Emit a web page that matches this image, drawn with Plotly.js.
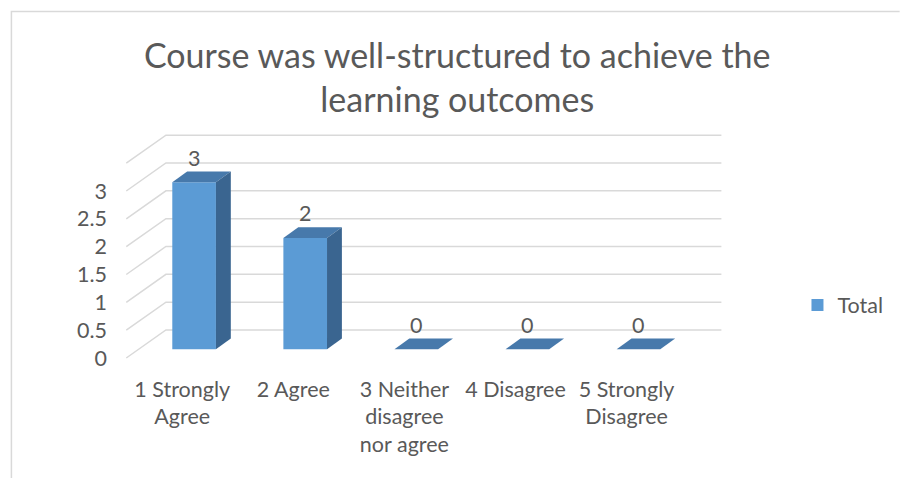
<!DOCTYPE html>
<html>
<head>
<meta charset="utf-8">
<script src="https://cdn.plot.ly/plotly-3.0.1.min.js"></script>
<style>html,body{margin:0;padding:0;background:#fff;}#chart{width:901px;height:478px;}</style>
</head>
<body>
<div id="chart"></div>
<script>
// ---- data ----
const categories = ['1 Strongly Agree', '2 Agree', '3 Neither disagree nor agree', '4 Disagree', '5 Strongly Disagree'];
const tickLabels = ['1 Strongly<br>Agree', '2 Agree', '3 Neither<br>disagree<br>nor agree', '4 Disagree', '5 Strongly<br>Disagree'];
const totals = [3, 2, 0, 0, 0];
const seriesName = 'Total';
const yTicks = [0, 0.5, 1, 1.5, 2, 2.5, 3];
const gridLevels = [0, 0.5, 1, 1.5, 2, 2.5, 3, 3.5];
const chartTitle = 'Course was well-structured to achieve the<br>learning outcomes';

// ---- geometry / style ----
const W = 901, H = 478;
const M = {l: 122, r: 163, t: 132, b: 115};
const plotW = W - M.l - M.r, plotH = H - M.t - M.b;
const pxPerCat = 112, pxPerUnit = 55.67;
const cat0px = 194.7, zeroPx = 349.3;
const xr = [-(cat0px - M.l) / pxPerCat, 0];
xr[1] = xr[0] + plotW / pxPerCat;
const yr = [-((H - M.b) - zeroPx) / pxPerUnit, 0];
yr[1] = yr[0] + plotH / pxPerUnit;

const barW = 44 / pxPerCat;
const depthX = 15 / pxPerCat, depthY = 10.7 / pxPerUnit;
const frontDX = -12.4 / pxPerCat, frontDY = -8.7 / pxPerUnit;
const backDX = 27.6 / pxPerCat, backDY = 19.3 / pxPerUnit;
const labelShiftX = 12 / pxPerCat;

const FRONT = '#5b9bd5', TOP = '#4779ab', SIDE = '#3a6590';
const TXT = '#595959', GRID = '#d9d9d9';
const FONT = 'Lato, "Open Sans", sans-serif';
const LBL = 21.5;

const idx = categories.map((c, i) => i);

const traces = [];
traces.push({
  type: 'bar', name: seriesName, x: idx, y: totals, width: barW,
  marker: {color: FRONT, line: {width: 0}}, hoverinfo: 'y', showlegend: true
});
// 3D faces derived from data
totals.forEach((v, i) => {
  const l = i - barW / 2, r = i + barW / 2;
  traces.push({
    type: 'scatter', mode: 'lines', fill: 'toself', fillcolor: TOP,
    line: {width: 0, color: TOP}, hoverinfo: 'skip', showlegend: false,
    x: [l, r, r + depthX, l + depthX, l], y: [v, v, v + depthY, v + depthY, v]
  });
  if (v > 0) {
    traces.push({
      type: 'scatter', mode: 'lines', fill: 'toself', fillcolor: SIDE,
      line: {width: 0, color: SIDE}, hoverinfo: 'skip', showlegend: false,
      x: [r, r + depthX, r + depthX, r, r], y: [0, depthY, v + depthY, v, 0]
    });
  }
});
// helper trace for the label axes
traces.push({
  type: 'scatter', mode: 'markers', x: idx, y: totals, xaxis: 'x2', yaxis: 'y2',
  marker: {opacity: 0}, hoverinfo: 'skip', showlegend: false
});

const shapes = gridLevels.map(v => ({
  type: 'path', xref: 'x', yref: 'y', layer: 'below',
  path: 'M' + (-0.5 + frontDX) + ',' + (v + frontDY) +
        ' L' + (-0.5 + backDX) + ',' + (v + backDY) +
        ' L' + (categories.length - 0.5 + backDX) + ',' + (v + backDY),
  line: {color: GRID, width: 1.5}
}));
// outer chart border
const px2x = p => (p - M.l) / plotW, px2y = p => ((H - M.b) - p) / plotH;
shapes.push({
  type: 'path', xref: 'paper', yref: 'paper',
  path: 'M' + px2x(10.5) + ',' + px2y(H + 5) + ' L' + px2x(10.5) + ',' + px2y(11.5) + ' L' + px2x(W + 5) + ',' + px2y(11.5),
  line: {color: GRID, width: 1.5}
});

const annotations = totals.map((v, i) => ({
  x: i, y: v + depthY, xref: 'x', yref: 'y', text: String(v), showarrow: false,
  yanchor: 'middle', yshift: 14, font: {family: FONT, size: LBL, color: TXT}
}));

const layout = {
  width: W, height: H, margin: M,
  paper_bgcolor: '#fff', plot_bgcolor: 'rgba(0,0,0,0)',
  title: {text: chartTitle, font: {family: FONT, size: 34, color: TXT},
          x: px2x(460), xref: 'paper', xanchor: 'center', y: 1 - 68 / H, yref: 'container', yanchor: 'middle'},
  xaxis: {range: xr, showgrid: false, zeroline: false, showline: false, showticklabels: false, ticks: ''},
  yaxis: {range: yr, showgrid: false, zeroline: false, showline: false, showticklabels: false, ticks: ''},
  xaxis2: {overlaying: 'x', anchor: 'y2', side: 'bottom', range: [xr[0] + labelShiftX, xr[1] + labelShiftX],
           tickmode: 'array', tickvals: idx, ticktext: tickLabels, showgrid: false, zeroline: false, showline: false,
           ticks: '', ticklabelstandoff: 11, tickfont: {family: FONT, size: LBL, color: TXT}},
  yaxis2: {overlaying: 'y', anchor: 'x2', side: 'left', range: [yr[0] - frontDY, yr[1] - frontDY],
           tickmode: 'array', tickvals: yTicks, showgrid: false, zeroline: false, showline: false,
           ticks: '', ticklabelstandoff: 14, tickfont: {family: FONT, size: LBL, color: TXT}},
  showlegend: true,
  legend: {x: px2x(803), y: px2y(305), xanchor: 'left', yanchor: 'middle', bgcolor: 'rgba(0,0,0,0)',
           font: {family: FONT, size: LBL, color: TXT}},
  shapes: shapes, annotations: annotations
};

Plotly.newPlot('chart', traces, layout, {displayModeBar: false, staticPlot: true});
</script>
</body>
</html>
